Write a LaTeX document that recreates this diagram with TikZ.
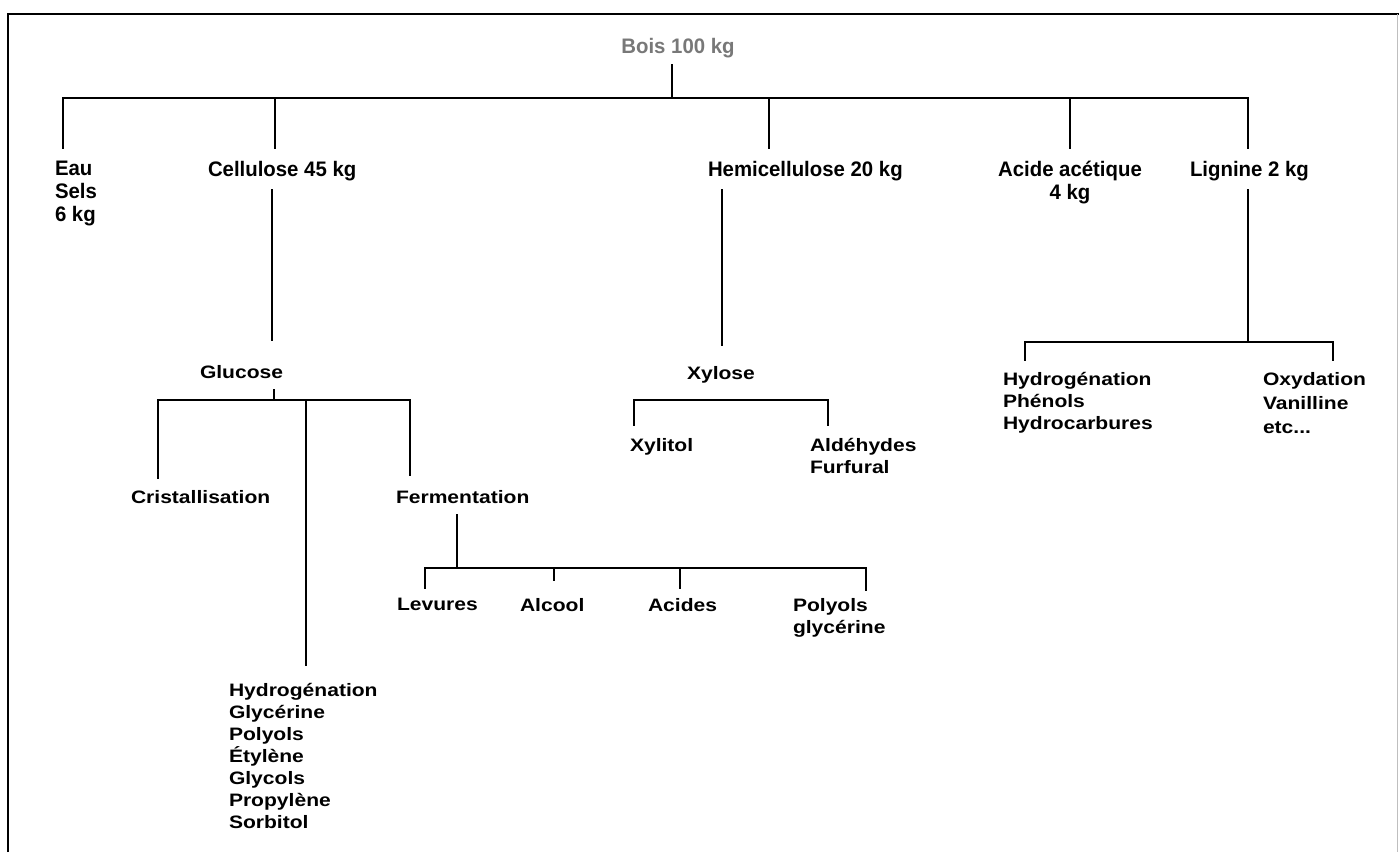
\documentclass[tikz,border=0pt]{standalone}
\usepackage{fontspec}
\newfontfamily\topfont[FakeStretch=0.97]{Liberation Sans}
\newfontfamily\lowfont[FakeStretch=1.17]{Liberation Sans}
\definecolor{boisgray}{RGB}{120,120,120}
\begin{document}
\begin{tikzpicture}[x=1pt,y=-1pt,
  toplbl/.style={inner sep=0pt,outer sep=0pt,anchor=north west,align=left,
    font=\topfont\bfseries\fontsize{21}{23}\selectfont},
  lowlbl/.style={inner sep=0pt,outer sep=0pt,anchor=north west,align=left,
    font=\lowfont\bfseries\fontsize{18}{22}\selectfont},
  link/.style={line width=2.6pt,line cap=rect},
  frameline/.style={line width=2.4pt}]
\useasboundingbox (0,0) rectangle (1399,852);
% frame
\draw[frameline] (8,852) -- (8,14) -- (1399,14);
\draw[line width=1pt,black!25] (1397,14) -- (1397,852);

% labels
\node[toplbl,anchor=north,text=boisgray] (bois) at (678,38) {Bois 100 kg};
\node[toplbl] (eau) at (55,161) {Eau\\Sels\\6 kg};
\node[toplbl] (cell) at (208,161) {Cellulose 45 kg};
\node[toplbl] (hemi) at (708,161) {Hemicellulose 20 kg};
\node[toplbl,anchor=north,align=center] (acide) at (1070,161) {Acide acétique\\4 kg};
\node[toplbl] (lig) at (1190,161) {Lignine 2 kg};

\node[lowlbl] (gluc) at (200,365) {Glucose};
\node[lowlbl] (crist) at (131,490) {Cristallisation};
\node[lowlbl] (ferm) at (396,490) {Fermentation};
\node[lowlbl] (hydrog) at (229,683) {Hydrogénation\\Glycérine\\Polyols\\Étylène\\Glycols\\Propylène\\Sorbitol};
\node[lowlbl] (lev) at (397,598) {Levures};
\node[lowlbl] (alc) at (520,598) {Alcool};
\node[lowlbl] (acd) at (648,598) {Acides};
\node[lowlbl] (poly) at (793,598) {Polyols\\glycérine};
\node[lowlbl] (xylose) at (687,366) {Xylose};
\node[lowlbl] (xylitol) at (630,438) {Xylitol};
\node[lowlbl] (ald) at (810,438) {Aldéhydes\\Furfural};
\node[lowlbl] (lhyd) at (1003,372) {Hydrogénation\\Phénols\\Hydrocarbures};
\node[lowlbl,font=\lowfont\bfseries\fontsize{18}{24}\selectfont] (oxy) at (1263,372) {Oxydation\\Vanilline\\etc...};

% junction coordinates
\coordinate (rtop) at (672,65);
\coordinate (rbar) at (672,98);
\coordinate (eauT) at (63,148);
\coordinate (eauB) at (63,98);
\coordinate (celT) at (275,148);
\coordinate (celB) at (275,98);
\coordinate (hemT) at (769,148);
\coordinate (hemB) at (769,98);
\coordinate (aciT) at (1070,148);
\coordinate (aciB) at (1070,98);
\coordinate (ligT) at (1248,148);
\coordinate (ligB) at (1248,98);

\coordinate (celD1) at (272,190);
\coordinate (celD2) at (272,340);
\coordinate (gluD1) at (274,390);
\coordinate (gluD2) at (274,400);
\coordinate (criT) at (158,478);
\coordinate (criB) at (158,400);
\coordinate (hydT) at (306,665);
\coordinate (hydB) at (306,400);
\coordinate (ferT) at (410,475);
\coordinate (ferB) at (410,400);

\coordinate (ferD1) at (457,515);
\coordinate (ferD2) at (457,568);
\coordinate (levT) at (425,588);
\coordinate (levB) at (425,568);
\coordinate (alcT) at (554,580);
\coordinate (alcB) at (554,568);
\coordinate (acdT) at (680,588);
\coordinate (acdB) at (680,568);
\coordinate (polT) at (866,590);
\coordinate (polB) at (866,568);

\coordinate (hemD1) at (722,190);
\coordinate (hemD2) at (722,345);
\coordinate (xitT) at (634,425);
\coordinate (xitB) at (634,400);
\coordinate (aldT) at (828,425);
\coordinate (aldB) at (828,400);

\coordinate (ligD1) at (1248,190);
\coordinate (ligD2) at (1248,342);
\coordinate (lhT) at (1025,360);
\coordinate (lhB) at (1025,342);
\coordinate (oxT) at (1333,360);
\coordinate (oxB) at (1333,342);

% connectors
\draw[link] (rtop) -- (rbar);
\draw[link] (eauT) -- (eauB) -- (ligB) -- (ligT);
\draw[link] (celB) -- (celT);
\draw[link] (hemB) -- (hemT);
\draw[link] (aciB) -- (aciT);

\draw[link] (celD1) -- (celD2);
\draw[link] (gluD1) -- (gluD2);
\draw[link] (criT) -- (criB) -- (ferB) -- (ferT);
\draw[link] (hydB) -- (hydT);

\draw[link] (ferD1) -- (ferD2);
\draw[link] (levT) -- (levB) -- (polB) -- (polT);
\draw[link] (alcB) -- (alcT);
\draw[link] (acdB) -- (acdT);

\draw[link] (hemD1) -- (hemD2);
\draw[link] (xitT) -- (xitB) -- (aldB) -- (aldT);

\draw[link] (ligD1) -- (ligD2);
\draw[link] (lhT) -- (lhB) -- (oxB) -- (oxT);
\end{tikzpicture}
\end{document}
